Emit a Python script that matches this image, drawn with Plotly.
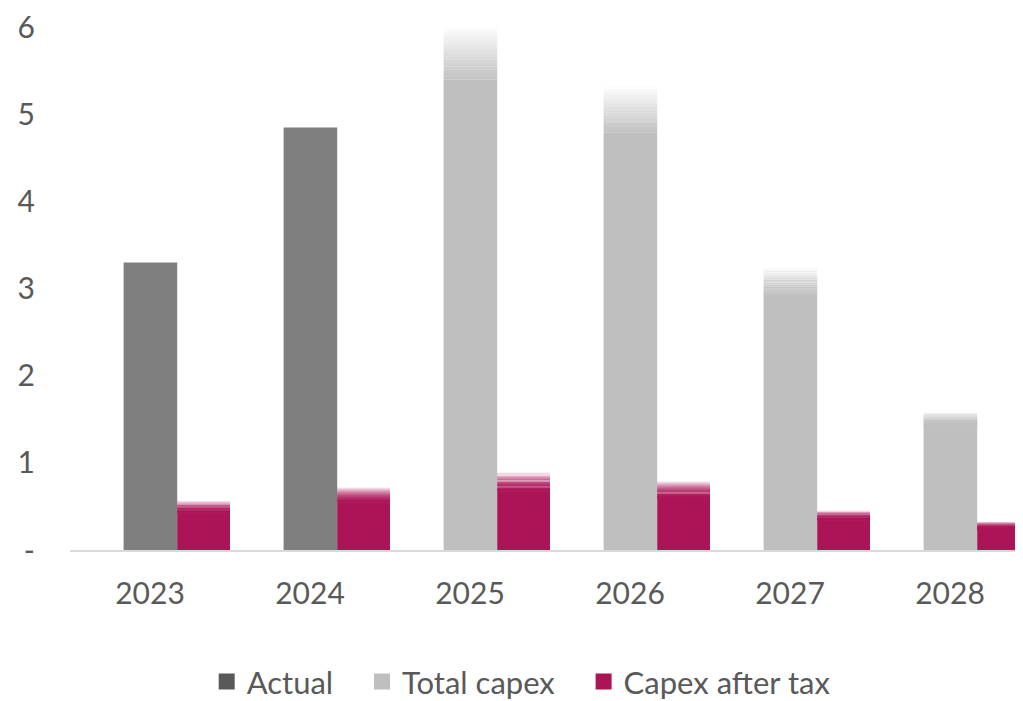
import plotly.graph_objects as go

years = ["2023", "2024", "2025", "2026", "2027", "2028"]
actual = [3.30, 4.85, None, None, None, None]
total_capex = [None, None, 6.00, 5.32, 3.24, 1.58]
capex_after_tax = [0.56, 0.72, 0.89, 0.79, 0.45, 0.32]

C_ACTUAL = "#7f7f7f"
C_ACTUAL_LEG = "#595959"
C_TOTAL = "#bfbfbf"
C_AFTER = "#ab1457"
FONT = "Lato, 'Open Sans', sans-serif"

fig = go.Figure()


def faded_bar(vals, color, offset, width, fade_frac, steps=16):
    """Solid bar plus a stack of slices that fade out towards the top."""
    solid = [v * (1 - fade_frac) if v is not None else None for v in vals]
    fig.add_trace(go.Bar(
        x=years, y=solid, marker_color=color, marker_line_width=0,
        offset=offset, width=width, showlegend=False, hoverinfo="skip"))
    for i in range(steps):
        base = [v * (1 - fade_frac) + v * fade_frac * i / steps if v is not None else None for v in vals]
        h = [v * fade_frac / steps if v is not None else None for v in vals]
        fig.add_trace(go.Bar(
            x=years, y=h, base=base, marker_color=color, marker_line_width=0,
            opacity=max(0.04, 1 - (i + 1) / steps * 0.95),
            offset=offset, width=width, showlegend=False, hoverinfo="skip"))


# actual bars are solid
fig.add_trace(go.Bar(
    x=years, y=actual, marker_color=C_ACTUAL, marker_line_width=0,
    offset=-0.165, width=0.335, showlegend=False))
faded_bar(total_capex, C_TOTAL, -0.165, 0.335, 0.1)
faded_bar(capex_after_tax, C_AFTER, 0.17, 0.33, 0.25)

# legend entries (square markers, bigger than bar swatches)
for name, col in [("Actual   ", C_ACTUAL_LEG), ("Total capex   ", C_TOTAL), ("Capex after tax", C_AFTER)]:
    fig.add_trace(go.Scatter(x=[years[0]], y=[None], name=name, mode="markers",
                             marker=dict(symbol="square", size=20, color=col), showlegend=True))

# page has an 8px body margin, so the figure is offset by (8, 8)
fig.update_layout(
    barmode="overlay",
    width=1030, height=693,
    margin=dict(l=62, r=8, t=19, b=151, autoexpand=False),
    plot_bgcolor="white", paper_bgcolor="white",
    font=dict(family=FONT, size=30, color="#595959"),
    legend=dict(orientation="h", x=0.47, xanchor="center", y=-0.252, yanchor="middle",
                font=dict(size=31, color="#595959"), itemwidth=30, traceorder="normal"),
)
fig.update_xaxes(
    type="category", range=[-0.5, 5.5], showline=True, linecolor="#d9d9d9", linewidth=2,
    showgrid=False, ticks="", ticklabelstandoff=16, tickfont=dict(size=30, color="#595959"))
fig.update_yaxes(
    range=[0, 6.002], showgrid=False, zeroline=False, showline=False,
    tickvals=[0, 1, 2, 3, 4, 5, 6], ticktext=["-", "1", "2", "3", "4", "5", "6"],
    ticklabelstandoff=34, tickfont=dict(size=30, color="#595959"), ticklabeloverflow="allow")

fig.write_html("out.html")
